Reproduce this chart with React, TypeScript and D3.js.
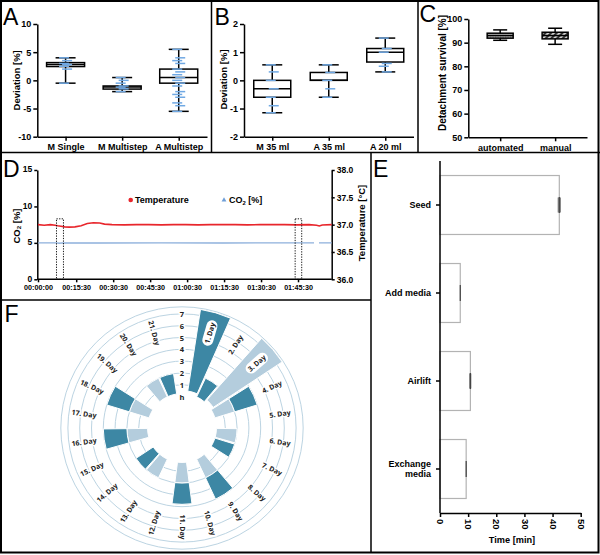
import React, { useEffect, useRef } from "react";
import * as d3 from "d3";

const W = 600;
const H = 555;
const FONT = "'Liberation Sans', Arial, Helvetica, sans-serif";
const PT_BLUE = "#6fa8e3";

// A: pipetting deviation
const aCategories = ["M Single", "M Multistep", "A Multistep"];
const aMin = [-0.5, -2.0, -5.5];
const aQ1 = [2.45, -1.55, -0.5];
const aMedian = [2.8, -1.2, 0.5];
const aQ3 = [3.15, -1.0, 2.0];
const aMax = [4.0, 0.5, 5.5];
const aPoints = [
  [4.0, 3.5, 3.0, 2.8, 2.5, 2.0, -0.5],
  [0.5, 0, -0.5, -1.0, -1.2, -1.5, -2.0],
  [5.5, 4.0, 3.5, 3.0, 2.0, 1.5, 1.0, 0.5, 0, -0.5, -1.0, -2.0, -2.5, -3.0, -4.0, -4.5, -5.5],
];
const aTicks = [-10, -5, 0, 5, 10];

// B: volume deviation
const bCategories = ["M 35 ml", "A 35 ml", "A 20 ml"];
const bMin = [-1.15, -0.6, 0.3];
const bQ1 = [-0.6, 0, 0.65];
const bMedian = [-0.3, 0, 1.0];
const bQ3 = [0, 0.28, 1.13];
const bMax = [0.55, 0.55, 1.5];
const bPoints = [
  [0.55, 0.3, 0, -0.3, -0.6, -0.9, -1.15],
  [0.55, 0.28, 0, -0.3, -0.6],
  [1.5, 1.13, 1.0, 0.6, 0.5, 0.3],
];
const bTicks = [-2, -1, 0, 1, 2];

// C: detachment survival
const cCategories = ["automated", "manual"];
const cMin = [91.0, 89.3];
const cQ1 = [91.9, 91.6];
const cMedian = [93.0, 93.0];
const cQ3 = [94.0, 94.4];
const cMax = [95.4, 96.1];
const cTicks = [50, 60, 70, 80, 90, 100];

// D: incubator log (seconds)
const dTimeTicks = [0, 930, 1830, 2730, 3630, 4530, 5430, 6330];
const tempTime = [0, 150, 300, 420, 480, 560, 650, 760, 900, 1050, 1200, 1350, 1500, 1620, 1800, 2100, 2400, 2700, 3000, 3300, 3600, 3900, 4200, 4500, 4800, 5100, 5400, 5700, 6000, 6300, 6600, 6780, 6850, 6920, 7150];
const tempValue = [37.0, 36.99, 37.0, 36.99, 36.98, 36.97, 36.96, 36.955, 36.96, 36.98, 37.02, 37.035, 37.03, 37.01, 37.0, 36.995, 37.0, 37.0, 36.995, 37.0, 37.0, 36.995, 37.0, 37.0, 37.0, 36.995, 37.0, 37.0, 37.0, 36.995, 37.0, 36.99, 36.975, 36.995, 37.0];
const co2Time = [0, 450, 520, 600, 1500, 3000, 4500, 6000, 6720, 6770, 6840, 7150];
const co2Value = [5.0, 5.0, 4.95, 5.0, 4.98, 5.0, 4.98, 5.0, 5.0, NaN, 5.0, 5.0];
const doorStart = [450, 6260];
const doorEnd = [620, 6420];
const doorTop = 8.3;

// E: process step durations
const eCategories = ["Seed", "Add media", "Airlift", "Exchange media"];
const eMeans = [42.4, 7.2, 10.8, 9.3];
const eSD = [0.6, 0.05, 0.3, 0.05];
const eTicks = [0, 10, 20, 30, 40, 50];

// F: culture schedule
const fDayLabels = ["1. Day", "2. Day", "3. Day", "4. Day", "5. Day", "6. Day", "7. Day", "8. Day", "9. Day", "10. Day", "11. Day", "12. Day", "13. Day", "14. Day", "15. Day", "16. Day", "17. Day", "18. Day", "19. Day", "20. Day", "21. Day"];
const fHourLabels = ["h", "1", "2", "3", "4", "5", "6", "7"];
const fBarDay = [1, 2, 3, 4, 4, 6, 7, 9, 9, 11, 11, 13, 14, 16, 16, 18, 18, 20, 21];
const fBarStart = [0.5, 0.25, 0.5, 0.25, 2, 0.25, 0.25, 0.25, 2, 0.25, 2, 0.25, 0.25, 0.25, 2, 0.25, 2, 0.25, 0.25];
const fBarEnd = [7.5, 2, 7.5, 2, 4, 2, 2, 2, 4, 2, 3.8, 2, 2, 2, 4, 2, 4, 2, 2];
const fBarTone = ["dark", "dark", "light", "light", "dark", "light", "dark", "light", "dark", "light", "dark", "light", "dark", "light", "dark", "light", "dark", "light", "dark"];
const fPillDays = [1, 3];

type Sel = d3.Selection<any, unknown, null, undefined>;

function styleAxis(g: Sel, size: number) {
  g.attr("font-family", FONT).attr("font-size", size);
  g.select(".domain").attr("stroke", "#000").attr("stroke-width", 1.5);
  g.selectAll(".tick line").attr("stroke", "#000").attr("stroke-width", 1.5);
  g.selectAll(".tick text").attr("font-weight", "bold").attr("fill", "#000");
}

function label(svg: Sel, text: string, x: number, y: number, size: number, rot = 0, anchor = "middle") {
  return svg
    .append("text")
    .attr("transform", `translate(${x},${y}) rotate(${rot})`)
    .attr("text-anchor", anchor)
    .attr("font-family", FONT)
    .attr("font-weight", "bold")
    .attr("font-size", size)
    .attr("fill", "#000")
    .text(text);
}

type BoxCfg = {
  cats: string[];
  min: number[];
  q1: number[];
  med: number[];
  q3: number[];
  max: number[];
  points?: number[][];
  xRange: [number, number];
  pad: number;
  yRange: [number, number];
  domain: [number, number];
  ticks: number[];
  boxW: number;
  capW: number;
  fills?: string[];
  title: string;
  titleX: number;
  titleY: number;
  titleSize: number;
};

function boxPanel(svg: Sel, cfg: BoxCfg) {
  const x = d3.scalePoint<string>().domain(cfg.cats).range(cfg.xRange).padding(cfg.pad);
  const y = d3.scaleLinear().domain(cfg.domain).range(cfg.yRange);

  const gx = svg
    .append("g")
    .attr("transform", `translate(0,${cfg.yRange[0]})`)
    .call(d3.axisBottom(x).tickSize(4).tickSizeOuter(0).tickPadding(3));
  styleAxis(gx, 9);
  const gy = svg
    .append("g")
    .attr("transform", `translate(${cfg.xRange[0]},0)`)
    .call(d3.axisLeft(y).tickValues(cfg.ticks).tickFormat((d) => String(d)).tickSize(4).tickSizeOuter(0).tickPadding(2));
  styleAxis(gy, 9);

  cfg.cats.forEach((c, i) => {
    const cx = x(c) as number;
    const g = svg.append("g");
    g.append("line")
      .attr("x1", cx).attr("x2", cx)
      .attr("y1", y(cfg.max[i])).attr("y2", y(cfg.min[i]))
      .attr("stroke", "#000").attr("stroke-width", 1.5);
    [cfg.min[i], cfg.max[i]].forEach((v) =>
      g.append("line")
        .attr("x1", cx - cfg.capW / 2).attr("x2", cx + cfg.capW / 2)
        .attr("y1", y(v)).attr("y2", y(v))
        .attr("stroke", "#000").attr("stroke-width", 1.5)
    );
    g.append("rect")
      .attr("x", cx - cfg.boxW / 2)
      .attr("width", cfg.boxW)
      .attr("y", y(cfg.q3[i]))
      .attr("height", y(cfg.q1[i]) - y(cfg.q3[i]))
      .attr("fill", cfg.fills ? cfg.fills[i] : "#fff")
      .attr("stroke", "#000")
      .attr("stroke-width", 1.5);
    g.append("line")
      .attr("x1", cx - cfg.boxW / 2).attr("x2", cx + cfg.boxW / 2)
      .attr("y1", y(cfg.med[i])).attr("y2", y(cfg.med[i]))
      .attr("stroke", "#000").attr("stroke-width", 1.5);
    if (cfg.points) {
      cfg.points[i].forEach((v, j) => {
        const off = ((j % 2) - 0.5) * 3;
        g.append("line")
          .attr("x1", cx - 5 + off).attr("x2", cx + 5 + off)
          .attr("y1", y(v)).attr("y2", y(v))
          .attr("stroke", PT_BLUE).attr("stroke-width", 1.5);
      });
    }
  });

  label(svg, cfg.title, cfg.titleX, cfg.titleY, cfg.titleSize, -90).attr("dominant-baseline", "central");
}

const fmtTime = (s: number) => {
  const h = Math.floor(s / 3600);
  const m = Math.floor((s % 3600) / 60);
  const sec = s % 60;
  return [h, m, sec].map((v) => String(v).padStart(2, "0")).join(":");
};

function co2Label(svg: Sel, x: number, y: number, size: number, rot: number, anchor: string) {
  const t = svg
    .append("text")
    .attr("transform", `translate(${x},${y}) rotate(${rot})`)
    .attr("text-anchor", anchor)
    .attr("font-family", FONT)
    .attr("font-weight", "bold")
    .attr("font-size", size)
    .attr("dominant-baseline", rot ? "central" : "auto");
  t.append("tspan").text("CO");
  t.append("tspan").attr("font-size", size * 0.65).attr("dy", size * 0.25).text("2");
  t.append("tspan").attr("dy", -size * 0.25).text(" [%]");
  return t;
}

function drawD(svg: Sel) {
  const x = d3.scaleLinear().domain([0, 7150]).range([38, 331.7]);
  const yC = d3.scaleLinear().domain([0, 15]).range([279.3, 170]);
  const yT = d3.scaleLinear().domain([36, 38]).range([279.3, 170]);

  const gx = svg
    .append("g")
    .attr("transform", `translate(0,279.3)`)
    .call(d3.axisBottom(x).tickValues(dTimeTicks).tickFormat((d) => fmtTime(+d)).tickSize(3).tickSizeOuter(0).tickPadding(3));
  styleAxis(gx, 7.2);
  gx.select(".domain").attr("d", "M37.3,0H331.7");
  const gl = svg
    .append("g")
    .attr("transform", `translate(37.3,0)`)
    .call(d3.axisLeft(yC).tickValues([0, 5, 10, 15]).tickFormat((d) => String(d)).tickSize(3).tickSizeOuter(0).tickPadding(2));
  styleAxis(gl, 8.5);
  gl.selectAll(".tick text").attr("dy", "0.2em");
  const gr = svg
    .append("g")
    .attr("transform", `translate(331.7,0)`)
    .call(d3.axisRight(yT).tickValues([36, 36.5, 37, 37.5, 38]).tickFormat(d3.format(".1f")).tickSize(3).tickSizeOuter(0).tickPadding(2));
  styleAxis(gr, 8.5);

  const co2Line = d3
    .line<number>()
    .defined((_, i) => !isNaN(co2Value[i]))
    .x((_, i) => x(co2Time[i]))
    .y((_, i) => yC(co2Value[i]));
  svg.append("path").attr("d", co2Line(co2Time)).attr("fill", "none").attr("stroke", "#8db0dc").attr("stroke-width", 1.3);

  const tLine = d3
    .line<number>()
    .x((_, i) => x(tempTime[i]))
    .y((_, i) => yT(tempValue[i]));
  svg.append("path").attr("d", tLine(tempTime)).attr("fill", "none").attr("stroke", "#e8262c").attr("stroke-width", 1.6);

  doorStart.forEach((s, i) => {
    svg.append("rect")
      .attr("x", x(s)).attr("width", x(doorEnd[i]) - x(s))
      .attr("y", yC(doorTop)).attr("height", yC(0) - yC(doorTop))
      .attr("fill", "none").attr("stroke", "#000").attr("stroke-width", 0.9)
      .attr("stroke-dasharray", "1.3,1.3");
  });

  // legend
  svg.append("circle").attr("cx", 130.7).attr("cy", 200).attr("r", 2.3).attr("fill", "#e8262c");
  label(svg, "Temperature", 135, 203.2, 9, 0, "start");
  svg.append("path")
    .attr("transform", "translate(224,200)")
    .attr("d", d3.symbol(d3.symbolTriangle, 10)())
    .attr("fill", "#6f9fd8");
  co2Label(svg, 229, 203.2, 9, 0, "start");

  co2Label(svg, 16, 226, 9.5, -90, "middle");
  label(svg, "Temperature [°C]", 361.5, 223, 9.5, -90).attr("dominant-baseline", "central");
}

function drawE(svg: Sel) {
  const y = d3.scaleBand<string>().domain(eCategories).range([161, 513]).paddingInner(0.33).paddingOuter(0.165);
  const x = d3.scaleLinear().domain([0, 50]).range([440, 580.7]);

  eCategories.forEach((c, i) => {
    svg.append("rect")
      .attr("x", x(0)).attr("y", y(c) as number)
      .attr("width", x(eMeans[i]) - x(0)).attr("height", y.bandwidth())
      .attr("fill", "#fff").attr("stroke", "#b3b3b3").attr("stroke-width", 1.2);
    const cy = (y(c) as number) + y.bandwidth() / 2;
    svg.append("rect")
      .attr("x", x(eMeans[i] - eSD[i])).attr("width", Math.max(0.5, x(eMeans[i] + eSD[i]) - x(eMeans[i] - eSD[i])))
      .attr("y", cy - 7.5).attr("height", 15)
      .attr("fill", i === 2 ? "#333" : "#8a8a8a");
    svg.append("line")
      .attr("x1", x(eMeans[i])).attr("x2", x(eMeans[i]))
      .attr("y1", cy - 8).attr("y2", cy + 8)
      .attr("stroke", "#444").attr("stroke-width", 1.2);
  });

  const gx = svg
    .append("g")
    .attr("transform", `translate(0,513)`)
    .call(d3.axisBottom(x).tickValues(eTicks).tickSize(4).tickSizeOuter(0));
  styleAxis(gx, 9.5);
  gx.selectAll(".tick text")
    .attr("transform", "rotate(90)")
    .attr("x", 6).attr("y", 0).attr("dy", "0.35em")
    .attr("text-anchor", "start");

  const gy = svg
    .append("g")
    .attr("transform", `translate(440,0)`)
    .call(d3.axisLeft(y).tickSize(4).tickSizeOuter(0).tickFormat(() => ""));
  styleAxis(gy, 9);
  gy.select(".domain").attr("d", "M0,161V513");

  eCategories.forEach((c) => {
    const cy = (y(c) as number) + y.bandwidth() / 2;
    const words = c === "Exchange media" ? ["Exchange", "media"] : [c];
    const t = svg.append("text")
      .attr("text-anchor", "end").attr("font-family", FONT)
      .attr("font-weight", "bold").attr("font-size", 9);
    words.forEach((w, k) => {
      t.append("tspan").attr("x", 431).attr("y", cy + 3.2 + (k - (words.length - 1) / 2) * 10.5).text(w);
    });
  });

  label(svg, "Time [min]", 512, 543.3, 9.2);
}

function drawF(svg: Sel) {
  const cx = 182;
  const cy = 428;
  const r = d3.scaleLinear().domain([0, 7]).range([31.5, 114.1]);
  const slot = (2 * Math.PI) / 22;
  const ringColor = "#bcd4e2";
  const tone: Record<string, string> = { dark: "#3d87a4", light: "#b4cddd" };
  const g = svg.append("g").attr("transform", `translate(${cx},${cy})`);

  [1, 2, 3, 4, 5, 6, 7, 7.6].forEach((h) =>
    g.append("circle").attr("r", r(h)).attr("fill", "none").attr("stroke", ringColor).attr("stroke-width", 1)
  );

  const arc = d3
    .arc<number>()
    .innerRadius((i) => r(fBarStart[i]))
    .outerRadius((i) => r(fBarEnd[i]))
    .startAngle((i) => (fBarDay[i] - 0.5) * slot + 0.012)
    .endAngle((i) => (fBarDay[i] + 0.5) * slot - 0.012);

  fBarDay.forEach((_, i) => {
    g.append("path").attr("d", arc(i)).attr("fill", tone[fBarTone[i]]).attr("stroke", "#fff").attr("stroke-width", 1);
  });

  fHourLabels.forEach((hl, h) => {
    g.append("text")
      .attr("x", 0).attr("y", -r(h))
      .attr("text-anchor", "middle").attr("dominant-baseline", "central")
      .attr("font-family", "'Open Sans', 'DejaVu Sans', sans-serif").attr("font-weight", "bold").attr("font-size", 7.5)
      .attr("fill", "#222")
      .attr("stroke", "#fff").attr("stroke-width", 3).attr("paint-order", "stroke")
      .text(hl);
  });

  fDayLabels.forEach((dl, k) => {
    const day = k + 1;
    const a = day * slot;
    const deg = (a * 180) / Math.PI;
    const rot = deg <= 180 ? deg - 90 : deg - 270;
    const rr = 99;
    const tx = rr * Math.sin(a);
    const ty = -rr * Math.cos(a);
    const lg = g.append("g").attr("transform", `translate(${tx},${ty}) rotate(${rot})`);
    const pill = fPillDays.includes(day);
    if (pill) {
      lg.append("rect").attr("x", -13).attr("y", -5.5).attr("width", 26).attr("height", 11).attr("rx", 5.5).attr("fill", "#fff");
    }
    lg.append("text")
      .attr("text-anchor", "middle").attr("dominant-baseline", "central")
      .attr("font-family", "'Open Sans', 'DejaVu Sans', sans-serif").attr("font-weight", "bold").attr("font-size", 7)
      .attr("fill", "#222")
      .attr("stroke", pill ? "none" : "#fff").attr("stroke-width", 3).attr("paint-order", "stroke")
      .text(dl);
  });
}

export default function App() {
  const ref = useRef<SVGSVGElement | null>(null);

  useEffect(() => {
    if (!ref.current) return;
    const svg = d3.select(ref.current);
    svg.selectAll("*").remove();
    svg.append("rect").attr("width", W).attr("height", H).attr("fill", "#fff");

    const defs = svg.append("defs");
    const dots = defs.append("pattern").attr("id", "dots").attr("width", 2.5).attr("height", 2.5).attr("patternUnits", "userSpaceOnUse");
    dots.append("rect").attr("width", 2.5).attr("height", 2.5).attr("fill", "#bdbdbd");
    dots.append("rect").attr("width", 1.2).attr("height", 1.2).attr("fill", "#555");
    const hatch = defs.append("pattern").attr("id", "hatch").attr("width", 4).attr("height", 4).attr("patternUnits", "userSpaceOnUse").attr("patternTransform", "rotate(45)");
    hatch.append("rect").attr("width", 4).attr("height", 4).attr("fill", "#d0d0d0");
    hatch.append("rect").attr("width", 2).attr("height", 4).attr("fill", "#333");

    boxPanel(svg, {
      cats: aCategories, min: aMin, q1: aQ1, med: aMedian, q3: aQ3, max: aMax, points: aPoints,
      xRange: [37.3, 207], pad: 0.5, yRange: [136.7, 24], domain: [-10, 10], ticks: aTicks,
      boxW: 38, capW: 20, title: "Deviation [%]", titleX: 16.5, titleY: 80.3, titleSize: 9.5,
    });
    boxPanel(svg, {
      cats: bCategories, min: bMin, q1: bQ1, med: bMedian, q3: bQ3, max: bMax, points: bPoints,
      xRange: [244, 413.5], pad: 0.5, yRange: [136.7, 24], domain: [-2, 2], ticks: bTicks,
      boxW: 37, capW: 20, title: "Deviation [%]", titleX: 223.5, titleY: 79.5, titleSize: 9.5,
    });
    boxPanel(svg, {
      cats: cCategories, min: cMin, q1: cQ1, med: cMedian, q3: cQ3, max: cMax,
      xRange: [468.3, 587], pad: 0.58, yRange: [137.3, 19], domain: [50, 100], ticks: cTicks,
      boxW: 26, capW: 14, fills: ["url(#dots)", "url(#hatch)"],
      title: "Detachment survival [%]", titleX: 442.7, titleY: 73, titleSize: 10,
    });

    drawD(svg);
    drawE(svg);
    drawF(svg);

    // panel frames
    const lines: [number, number, number, number][] = [
      [0, 152.5, 600, 152.5],
      [211.5, 0, 211.5, 152.5],
      [418, 0, 418, 152.5],
      [371, 152.5, 371, 553],
      [0, 300, 371, 300],
    ];
    lines.forEach(([x1, y1, x2, y2]) =>
      svg.append("line").attr("x1", x1).attr("y1", y1).attr("x2", x2).attr("y2", y2).attr("stroke", "#000").attr("stroke-width", 1.5)
    );
    svg.append("rect").attr("x", 1).attr("y", 1).attr("width", 597.5).attr("height", 551.5).attr("fill", "none").attr("stroke", "#000").attr("stroke-width", 2);

    const letters: [string, number, number][] = [
      ["A", 3, 25], ["B", 214.5, 25], ["C", 419.5, 21.7], ["D", 3, 176.7], ["E", 373, 176.7], ["F", 4.5, 321.7],
    ];
    letters.forEach(([t, x, y]) =>
      svg.append("text").attr("x", x).attr("y", y).attr("font-family", FONT).attr("font-size", 23).attr("fill", "#000").text(t)
    );
  }, []);

  return (
    <div style={{ position: "absolute", left: 0, top: 0 }}>
      <svg ref={ref} width={W} height={H} />
    </div>
  );
}
